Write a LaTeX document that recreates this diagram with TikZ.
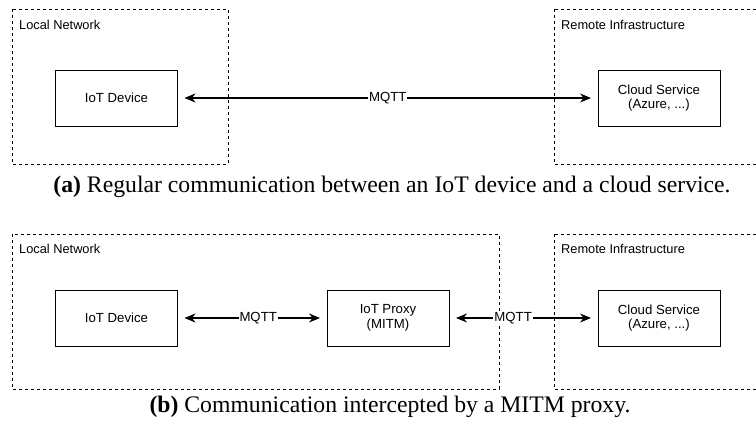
\documentclass[tikz,border=0pt]{standalone}
\usepackage{fontspec}
\setmainfont{Liberation Serif}
\newfontfamily\diafont{Liberation Sans}
\usetikzlibrary{arrows.meta,positioning}

\begin{document}
\begin{tikzpicture}[x=1pt,y=-1pt,
  devbox/.style={draw, line width=0.9pt, minimum width=122pt, minimum height=56pt, align=center, font=\diafont\fontsize{13.2}{14.5}\selectfont},
  zone/.style={draw, line width=0.8pt, dash pattern=on 3pt off 3pt},
  zonelbl/.style={anchor=west, inner sep=0pt, font=\diafont\fontsize{12.8}{15}\selectfont},
  link/.style={{Stealth[length=11pt,width=9pt,inset=3.5pt]}-{Stealth[length=11pt,width=9pt,inset=3.5pt]}, line width=1.1pt, shorten <=6.5pt, shorten >=6.5pt},
  proto/.style={fill=white, inner sep=1pt, font=\diafont\fontsize{13.2}{15}\selectfont},
  capt/.style={inner sep=0pt, font=\fontsize{23.7}{28}\selectfont}]
\useasboundingbox (0,0) rectangle (756,428);
\clip (0,0) rectangle (756,428);
% (a) regular communication
\draw[zone] (12,9) rectangle (228,164);
\draw[zone] (554,9) rectangle (770,164);
\node[zonelbl] (lana) at (19,25) {Local Network};
\node[zonelbl] (remotea) at (561,25) {Remote Infrastructure};
\node[devbox] (deva) at (116.5,98) {IoT Device};
\node[devbox] (clouda) at (659,98) {Cloud Service\\(Azure, ...)};
\draw[link] (deva) -- node[proto, pos=0.5] {MQTT} (clouda);
\node[capt] (capa) at (392,187) {\textbf{(a)} Regular communication between an IoT device and a cloud service.};
% (b) with the proxy in between
\draw[zone] (12,234) rectangle (499,389);
\draw[zone] (554,234) rectangle (770,389);
\node[zonelbl] (lanb) at (19,249) {Local Network};
\node[zonelbl] (remoteb) at (561,249) {Remote Infrastructure};
\node[devbox] (devb) at (116.5,318) {IoT Device};
\node[devbox] (proxy) at (388,318) {IoT Proxy\\(MITM)};
\node[devbox] (cloudb) at (659,318) {Cloud Service\\(Azure, ...)};
\draw[link] (devb) -- node[proto, pos=0.54] {MQTT} (proxy);
\draw[link] (proxy) -- node[proto, pos=0.43] {MQTT} (cloudb);
\node[capt] (capb) at (390,407) {\textbf{(b)} Communication intercepted by a MITM proxy.};
\end{tikzpicture}
\end{document}
